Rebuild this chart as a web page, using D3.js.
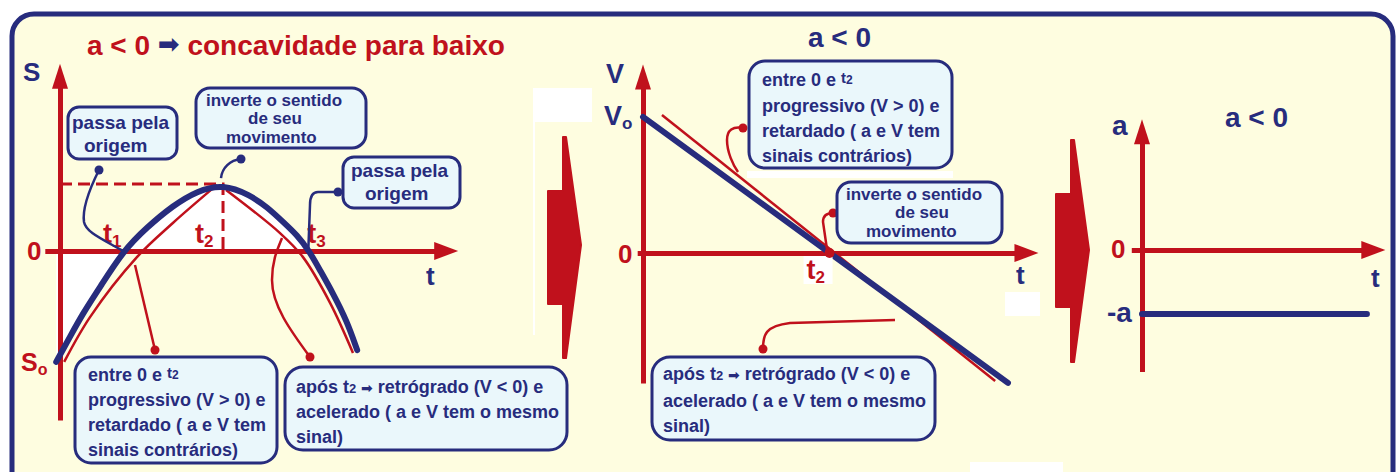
<!DOCTYPE html>
<html>
<head>
<meta charset="utf-8">
<script src="https://cdn.jsdelivr.net/npm/d3@7/dist/d3.min.js"></script>
<style>
  body { margin: 0; background: #fff; }
  svg text { font-family: "Liberation Sans", Arial, sans-serif; font-weight: bold; }
</style>
</head>
<body>
<div id="chart"></div>
<script>
var RED = '#c0111c', NAVY = '#272c7d', BG = '#fefde0', BOX = '#eaf7fb';

// S x t : parabola
var sCurve = [[-0.1, -3.96], [0.26, -3.07], [0.61, -2.21], [1.05, -1.3], [1.66, 0], [2.29, 0.85],
              [2.97, 1.62], [3.61, 2.15], [4.29, 2.39], [5.0, 2.0], [5.45, 1.57], [5.87, 1.04],
              [6.24, 0.57], [6.56, 0], [6.84, -0.68], [7.18, -1.5], [7.55, -2.5], [7.82, -3.54]];
var sRedLeft = [[0.11, -3.96], [0.79, -2.36], [2.03, -0.21], [2.97, 1.0], [4.13, 2.36]];
var sRedRight = [[4.37, 2.18], [5.79, 0.64], [6.39, -0.21], [7.11, -1.86], [7.71, -3.64]];
var sTimes = [1.66, 4.29, 6.56];        // t1, t2, t3
var sTimeLabels = ['1', '2', '3'];
var sMax = 2.39;

// V x t : reta decrescente
var vBlue = [[0, 4.86], [9.43, -4.64]];
var vRed = [[0.49, 4.93], [9.1, -4.57]];
var vT2 = 4.82;

// a x t : constante
var aBlue = [[0, -1], [9.45, -1]];

var width = 1397, height = 472;
var svg = d3.select('#chart').append('svg')
    .attr('width', width)
    .attr('height', height);

// moldura
svg.append('rect')
    .attr('x', 12).attr('y', 14).attr('width', 1381).attr('height', 490)
    .attr('rx', 22)
    .attr('fill', BG).attr('stroke', NAVY).attr('stroke-width', 5);

// manchas brancas da imagem original
[[533, 88, 59, 34], [533, 122, 2, 213], [747, 171, 206, 7], [1005, 292, 35, 24], [970, 462, 93, 10]]
  .forEach(function (r) {
    svg.append('rect').attr('x', r[0]).attr('y', r[1]).attr('width', r[2]).attr('height', r[3]).attr('fill', '#fff');
  });

// scales
var xS = d3.scaleLinear().domain([0, 10]).range([60, 440]);
var yS = d3.scaleLinear().domain([0, 1]).range([251, 223]);
var xV = d3.scaleLinear().domain([0, 10]).range([643, 1030]);
var yV = d3.scaleLinear().domain([0, 1]).range([253, 225]);
var xA = d3.scaleLinear().domain([0, 10]).range([1142, 1380]);
var yA = d3.scaleLinear().domain([-1, 0]).range([314, 250]);

function hAxis(x, y, t0, t1, yVal) {
  var sc = x.copy().domain([t0, t1]).range([x(t0), x(t1)]);
  var g = svg.append('g')
      .attr('transform', 'translate(0,' + y(yVal) + ')')
      .call(d3.axisBottom(sc).tickValues([]).tickSizeOuter(0));
  g.select('.domain').attr('stroke', RED).attr('stroke-width', 5);
  var tip = x(t1) + 22, yy = y(yVal);
  svg.append('path')
      .attr('d', 'M' + (tip - 24) + ',' + (yy - 9) + 'L' + tip + ',' + yy + 'L' + (tip - 24) + ',' + (yy + 9) + 'Z')
      .attr('fill', RED);
}
function vAxis(x, y, v0, v1, xVal) {
  var sc = y.copy().domain([v0, v1]).range([y(v0), y(v1)]);
  var g = svg.append('g')
      .attr('transform', 'translate(' + x(xVal) + ',0)')
      .call(d3.axisLeft(sc).tickValues([]).tickSizeOuter(0));
  g.select('.domain').attr('stroke', RED).attr('stroke-width', 5);
  var tip = y(v1) - 22, xx = x(xVal);
  svg.append('path')
      .attr('d', 'M' + (xx - 8) + ',' + (tip + 25) + 'L' + xx + ',' + tip + 'L' + (xx + 8) + ',' + (tip + 25) + 'Z')
      .attr('fill', RED);
}

function label(x, y, txt, color, size, sub, subSize) {
  var t = svg.append('text').attr('x', x).attr('y', y)
      .attr('fill', color).attr('font-size', size).text(txt);
  if (sub) t.append('tspan').attr('font-size', subSize || 16).attr('dy', 4).text(sub);
  return t;
}

// ---------- Painel 1 : S x t ----------
var lineS = d3.line().x(function (d) { return xS(d[0]); }).y(function (d) { return yS(d[1]); })
    .curve(d3.curveBasis);
var areaS = d3.area().x(function (d) { return xS(d[0]); }).y0(yS(0)).y1(function (d) { return yS(d[1]); })
    .curve(d3.curveBasis);

svg.append('path').datum(sCurve.slice(0, 14)).attr('d', areaS).attr('fill', '#fff');

vAxis(xS, yS, -6.04, 5.9, 0);
hAxis(xS, yS, -0.4, 9.9, 0);

// tracejados no vertice
svg.append('path')
    .attr('d', 'M' + xS(0) + ',' + yS(sMax) + 'H' + xS(sTimes[1]) + 'V' + yS(0))
    .attr('fill', 'none').attr('stroke', RED).attr('stroke-width', 3)
    .attr('stroke-dasharray', '12,6');

svg.append('path').datum(sRedLeft).attr('d', lineS.curve(d3.curveCatmullRom))
    .attr('fill', 'none').attr('stroke', RED).attr('stroke-width', 2.5);
svg.append('path').datum(sRedRight).attr('d', lineS)
    .attr('fill', 'none').attr('stroke', RED).attr('stroke-width', 2.5);
svg.append('path').datum(sCurve).attr('d', lineS.curve(d3.curveBasis))
    .attr('fill', 'none').attr('stroke', NAVY).attr('stroke-width', 6).attr('stroke-linecap', 'round');

var tOff = [-20, -28, -2];
sTimes.forEach(function (t, i) {
  label(xS(t) + tOff[i], yS(0) - 8, 't', RED, 27, sTimeLabels[i], 17);
});

label(23, 81, 'S', NAVY, 26);
label(27, 260, '0', RED, 26);
label(426, 285, 't', NAVY, 26);
label(21, 371, 'S', RED, 25, 'o', 16);

// titulo
var title = svg.append('text').attr('x', 87).attr('y', 55).attr('font-size', 28).attr('fill', RED);
title.append('tspan').text('a < 0 ');
title.append('tspan').attr('fill', NAVY).attr('font-family', 'DejaVu Sans').attr('font-size', 26).attr('dy', -2).text('\u27A1');
title.append('tspan').attr('dy', 2).text(' concavidade para baixo');

// ---------- Painel 2 : V x t ----------
var lineV = d3.line().x(function (d) { return xV(d[0]); }).y(function (d) { return yV(d[1]); });

vAxis(xV, yV, -4.64, 5.95, 0);
hAxis(xV, yV, -0.15, 9.65, 0);
svg.append('path').datum(vRed).attr('d', lineV)
    .attr('fill', 'none').attr('stroke', RED).attr('stroke-width', 2.5);
svg.append('path').datum(vBlue).attr('d', lineV)
    .attr('fill', 'none').attr('stroke', NAVY).attr('stroke-width', 6).attr('stroke-linecap', 'round');
svg.append('rect').attr('x', xV(vT2) - 26).attr('y', yV(0) + 3).attr('width', 29).attr('height', 28).attr('fill', '#fff');
svg.append('circle').attr('cx', xV(vT2)).attr('cy', yV(0)).attr('r', 5).attr('fill', RED);
label(xV(vT2) - 23, yV(0) + 26, 't', RED, 27, '2', 17);

label(606, 83, 'V', NAVY, 27);
label(604, 125, 'V', NAVY, 27, 'o', 17);
label(618, 263, '0', RED, 26);
label(1016, 284, 't', NAVY, 26);
label(808, 47, 'a < 0', NAVY, 28);

// ---------- Painel 3 : a x t ----------
var lineA = d3.line().x(function (d) { return xA(d[0]); }).y(function (d) { return yA(d[1]); });
vAxis(xA, yA, -1.9, 1.7, 0);
hAxis(xA, yA, -0.45, 9.3, 0);
svg.append('path').datum(aBlue).attr('d', lineA)
    .attr('fill', 'none').attr('stroke', NAVY).attr('stroke-width', 6).attr('stroke-linecap', 'round');
label(1112, 135, 'a', NAVY, 28);
label(1225, 127, 'a < 0', NAVY, 28);
label(1111, 258, '0', RED, 26);
label(1371, 287, 't', NAVY, 26);
label(1107, 322, '-a', NAVY, 28);

// setas grandes vermelhas
[548, 1056].forEach(function (x0, i) {
  var top = i ? 140 : 137, bot = i ? 362 : 358, mid = i ? 250 : 245, r0 = i ? 194 : 191, r1 = i ? 307 : 304;
  svg.append('path')
      .attr('d', 'M' + x0 + ',' + r0 + 'H' + (x0 + 15) + 'V' + top + 'H' + (x0 + 18) +
                 'L' + (x0 + 33) + ',' + mid + 'L' + (x0 + 18) + ',' + bot + 'H' + (x0 + 15) +
                 'V' + r1 + 'H' + x0 + 'Z')
      .attr('fill', RED).attr('stroke', RED).attr('stroke-width', 2).attr('stroke-linejoin', 'round');
});

// ---------- chamadas ----------
function pointer(d, dot, color) {
  svg.append('path').attr('d', d).attr('fill', 'none').attr('stroke', color).attr('stroke-width', 2.5);
  svg.append('circle').attr('cx', dot[0]).attr('cy', dot[1]).attr('r', 4.5).attr('fill', color);
}
function callout(x, y, w, h, rx, fs, lines) {
  svg.append('rect').attr('x', x).attr('y', y).attr('width', w).attr('height', h)
      .attr('rx', rx).attr('fill', BOX).attr('stroke', NAVY).attr('stroke-width', 3);
  lines.forEach(function (l) {
    var t = svg.append('text').attr('x', l[0]).attr('y', l[1]).attr('font-size', fs).attr('fill', NAVY);
    l[2].split(/(\{t2\}|\{T2\}|\{arr\})/).forEach(function (p) {
      if (!p) return;
      if (p === '{t2}') {
        t.append('tspan').attr('font-size', 15).attr('dy', -3).text('t');
        t.append('tspan').attr('font-size', 12).attr('dy', 1).text('2');
      } else if (p === '{T2}') {
        t.append('tspan').text('t');
        t.append('tspan').attr('font-size', 13).text('2');
      } else if (p === '{arr}') {
        t.append('tspan').attr('font-family', 'DejaVu Sans').attr('font-size', 14).text(' \u27A1 ');
      } else {
        t.append('tspan').text(p);
      }
    });
  });
}

// painel 1
pointer('M99,170 C90,188 82,208 84,222 C86,232 100,238 ' + xS(sTimes[0]) + ',' + yS(0), [99, 170], NAVY);
pointer('M241,159 C230,160 222,168 221,' + (yS(sMax) - 6), [241, 159], NAVY);
pointer('M338,192 L318,192 C312,192 310,198 310,205 L' + (xS(sTimes[2]) - 1) + ',' + yS(0), [338, 192], NAVY);
pointer('M155,350 L135,265', [155, 350], RED);
pointer('M310,357 C290,330 272,305 272,280 C272,260 278,248 282,238', [310, 357], RED);

callout(68, 107, 109, 52, 11, 19, [[72, 129, 'passa pela'], [84, 152, 'origem']]);
callout(196, 88, 170, 60, 14, 17, [[206, 106, 'inverte o sentido'], [248, 124, 'de seu'], [226, 143, 'movimento']]);
callout(343, 157, 117, 51, 11, 19, [[351, 177, 'passa pela'], [365, 200, 'origem']]);
callout(75, 357, 202, 106, 16, 18, [[88, 381, 'entre 0 e {t2}'], [88, 406, 'progressivo (V > 0) e'],
                                [88, 431, 'retardado ( a e V tem'], [88, 456, 'sinais contrários)']]);
callout(285, 367, 282, 83, 18, 18, [[296, 393, 'após {T2}{arr}retrógrado (V < 0) e'],
                                [296, 418, 'acelerado ( a e V tem o mesmo'], [296, 443, 'sinal)']]);

// painel 2
pointer('M743,128 C733,126 727,130 727,140 C727,152 733,165 738,172', [743, 128], RED);
pointer('M833,213 C826,213 823,216 823,222 L' + (xV(vT2) - 2) + ',' + yV(0), [833, 213], RED);
pointer('M763,349 C763,335 765,326 790,323 L895,320', [763, 349], RED);

callout(749, 61, 203, 107, 16, 18, [[762, 86, 'entre 0 e {t2}'], [762, 112, 'progressivo (V > 0) e'],
                                [762, 137, 'retardado ( a e V tem'], [762, 162, 'sinais contrários)']]);
callout(837, 182, 165, 61, 14, 17, [[846, 200, 'inverte o sentido'], [895, 218, 'de seu'], [866, 237, 'movimento']]);
callout(652, 357, 283, 83, 18, 18, [[663, 380, 'após {T2}{arr}retrógrado (V < 0) e'],
                                [663, 407, 'acelerado ( a e V tem o mesmo'], [663, 432, 'sinal)']]);
</script>
</body>
</html>
